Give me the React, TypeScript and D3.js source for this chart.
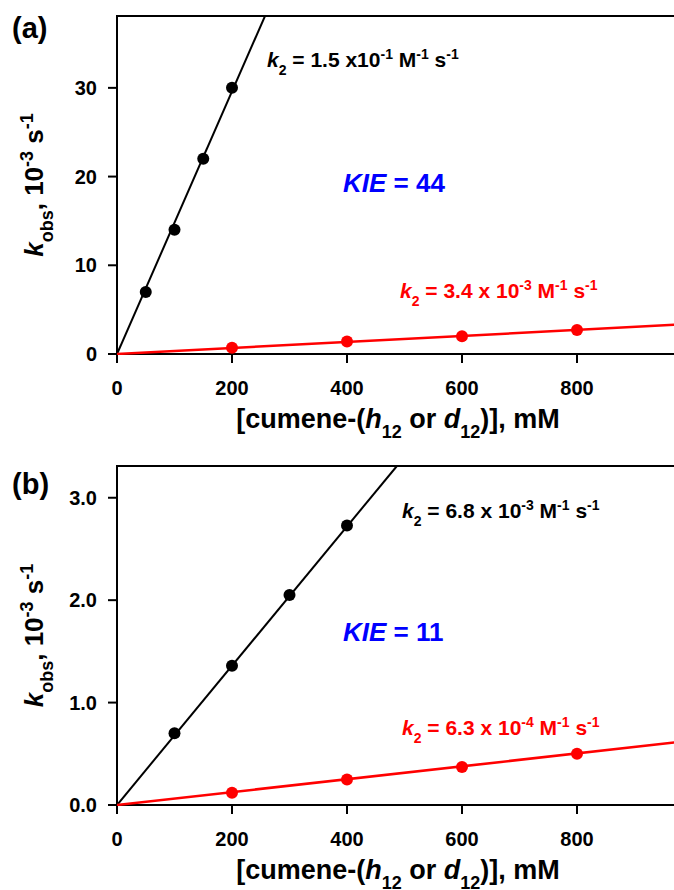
import * as d3 from "d3";

// panel (a): kobs in 10^-3 s^-1 vs [cumene] in mM
const concA_h = [50, 100, 150, 200];
const kobsA_h = [7.0, 14.0, 22.0, 30.0];
const concA_d = [200, 400, 600, 800];
const kobsA_d = [0.7, 1.4, 2.0, 2.7];
const slopeA_h = 0.148;
const slopeA_d = 0.0034;
const yTicksA = [0, 10, 20, 30];

// panel (b)
const concB_h = [100, 200, 300, 400];
const kobsB_h = [0.7, 1.36, 2.05, 2.73];
const concB_d = [200, 400, 600, 800];
const kobsB_d = [0.12, 0.25, 0.37, 0.5];
const slopeB_h = 0.0068;
const slopeB_d = 0.00063;
const yTicksB = [0, 1, 2, 3];

const xTicks = [0, 200, 400, 600, 800];

const FONT = "Arial, 'Liberation Sans', sans-serif";

function Sup(props) {
	return (
		<tspan baselineShift="super" fontSize={props.size}>
			{props.children}
		</tspan>
	);
}

function Panel(props) {
	const { top, bottom, yMax, yTicks, yFmt, tag, hx, hy, dx, dy, sh, sd, kie, kLabelH, kLabelD, pos } = props;
	const left = 117;
	const x = d3.scaleLinear().domain([0, 1000]).range([left, left + 575]);
	const y = d3.scaleLinear().domain([0, yMax]).range([bottom, top]);

	const line = d3
		.line()
		.x((d) => x(d[0]))
		.y((d) => y(d[1]));

	// fit lines through origin, clipped to the plot area
	const xEndH = Math.min(1000, yMax / sh);
	const xEndD = Math.min(1000, yMax / sd);

	const clipId = "clip-" + tag;

	return (
		<g>
			<defs>
				<clipPath id={clipId}>
					<rect x={left} y={top} width={674 - left} height={bottom - top + 1} />
				</clipPath>
			</defs>
			<text x={12} y={pos.tagY} fontSize={29} fontWeight="bold" fontFamily={FONT}>
				({tag})
			</text>

			{/* frame */}
			<path d={`M${left},${bottom}V${top}H674`} fill="none" stroke="black" strokeWidth={2} />
			<line x1={left - 1} x2={674} y1={bottom} y2={bottom} stroke="black" strokeWidth={2} />

			{yTicks.map((t) => (
				<g key={"y" + t}>
					<line x1={left - 9} x2={left} y1={y(t)} y2={y(t)} stroke="black" strokeWidth={2} />
					<text
						x={97}
						y={y(t) + 7}
						textAnchor="end"
						fontSize={20}
						fontWeight="bold"
						fontFamily={FONT}
					>
						{yFmt(t)}
					</text>
				</g>
			))}
			{xTicks.map((t) => (
				<g key={"x" + t}>
					<line x1={x(t)} x2={x(t)} y1={bottom} y2={bottom + 9} stroke="black" strokeWidth={2} />
					<text x={x(t)} y={bottom + 41} textAnchor="middle" fontSize={20} fontWeight="bold" fontFamily={FONT}>
						{t}
					</text>
				</g>
			))}

			<g clipPath={`url(#${clipId})`}>
				<path d={line([[0, 0], [xEndH, xEndH * sh]])} fill="none" stroke="black" strokeWidth={2} />
				<path d={line([[0, 0], [xEndD, xEndD * sd]])} fill="none" stroke="#ff0000" strokeWidth={2.5} />
			</g>

			{hx.map((v, i) => (
				<circle key={"h" + i} cx={x(v)} cy={y(hy[i])} r={6} fill="black" />
			))}
			{dx.map((v, i) => (
				<circle key={"d" + i} cx={x(v)} cy={y(dy[i])} r={6} fill="#ff0000" />
			))}

			{/* annotations */}
			<text x={pos.hx} y={pos.hy} fontSize={21} fontWeight="bold" fontFamily={FONT} fill="black">
				<tspan fontStyle="italic">k</tspan>
				<tspan baselineShift="sub" fontSize={14}>2</tspan>
				<tspan>{" = " + kLabelH[0]}</tspan>
				<Sup size={14}>{kLabelH[1]}</Sup>
				<tspan> M</tspan>
				<Sup size={14}>-1</Sup>
				<tspan> s</tspan>
				<Sup size={14}>-1</Sup>
			</text>
			<text x={pos.dx} y={pos.dy} fontSize={21} fontWeight="bold" fontFamily={FONT} fill="#ff0000">
				<tspan fontStyle="italic">k</tspan>
				<tspan baselineShift="sub" fontSize={14}>2</tspan>
				<tspan>{" = " + kLabelD[0]}</tspan>
				<Sup size={14}>{kLabelD[1]}</Sup>
				<tspan> M</tspan>
				<Sup size={14}>-1</Sup>
				<tspan> s</tspan>
				<Sup size={14}>-1</Sup>
			</text>
			<text x={pos.kx} y={pos.ky} fontSize={26} fontWeight="bold" fontFamily={FONT} fill="#0000ff">
				<tspan fontStyle="italic">KIE</tspan>
				<tspan>{" = " + kie}</tspan>
			</text>

			{/* axis titles */}
			<text x={398} y={bottom + 74} textAnchor="middle" fontSize={27} fontWeight="bold" fontFamily={FONT}>
				<tspan>[cumene-(</tspan>
				<tspan fontStyle="italic">h</tspan>
				<tspan baselineShift="sub" fontSize={18}>12</tspan>
				<tspan> or </tspan>
				<tspan fontStyle="italic">d</tspan>
				<tspan baselineShift="sub" fontSize={18}>12</tspan>
				<tspan>)], mM</tspan>
			</text>
			<text
				transform={`translate(${43},${(top + bottom) / 2}) rotate(-90)`}
				textAnchor="middle"
				fontSize={26}
				fontWeight="bold"
				fontFamily={FONT}
			>
				<tspan fontStyle="italic">k</tspan>
				<tspan baselineShift="sub" fontSize={18}>obs</tspan>
				<tspan>, 10</tspan>
				<Sup size={18}>-3</Sup>
				<tspan> s</tspan>
				<Sup size={18}>-1</Sup>
			</text>
		</g>
	);
}

export default function App() {
	return (
		<svg
			width={674}
			height={890}
			style={{ position: "absolute", left: 0, top: 0, background: "white" }}
		>
			<rect width={674} height={890} fill="white" />
			<Panel
				tag="a"
				top={16}
				bottom={354}
				yMax={38.1}
				yTicks={yTicksA}
				yFmt={(t) => String(t)}
				hx={concA_h}
				hy={kobsA_h}
				dx={concA_d}
				dy={kobsA_d}
				sh={slopeA_h}
				sd={slopeA_d}
				kie="44"
				kLabelH={["1.5 x10", "-1"]}
				kLabelD={["3.4 x 10", "-3"]}
				pos={{ tagY: 38, hx: 267, hy: 67, dx: 400, dy: 298, kx: 343, ky: 192 }}
			/>
			<Panel
				tag="b"
				top={466}
				bottom={805}
				yMax={3.31}
				yTicks={yTicksB}
				yFmt={(t) => t.toFixed(1)}
				hx={concB_h}
				hy={kobsB_h}
				dx={concB_d}
				dy={kobsB_d}
				sh={slopeB_h}
				sd={slopeB_d}
				kie="11"
				kLabelH={["6.8 x 10", "-3"]}
				kLabelD={["6.3 x 10", "-4"]}
				pos={{ tagY: 494, hx: 402, hy: 518, dx: 402, dy: 735, kx: 343, ky: 641 }}
			/>
		</svg>
	);
}
